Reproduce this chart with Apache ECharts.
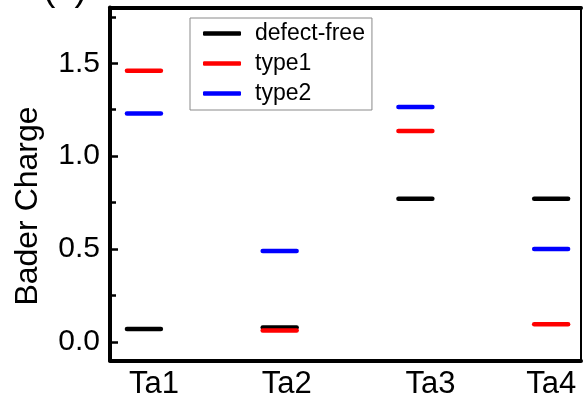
<!DOCTYPE html>
<html>
<head>
<meta charset="utf-8">
<script src="https://cdn.jsdelivr.net/npm/echarts@6/dist/echarts.min.js"></script>
<style>
  html, body { margin: 0; padding: 0; background: #fff; }
  #chart { width: 583px; height: 409px; }
</style>
</head>
<body>
<div id="chart"></div>
<script>
// Bader charge of the four Ta sites
var sites = ['Ta1', 'Ta2', 'Ta3', 'Ta4'];
var defectFree = [0.07, 0.078, 0.77, 0.77];
var type1 = [1.46, 0.062, 1.135, 0.095];
var type2 = [1.23, 0.49, 1.265, 0.50];
var yLabels = [0, 0.5, 1.0, 1.5];
var yMinor = [0.25, 0.75, 1.25, 1.75];

var font = 'Liberation Sans, Arial, sans-serif';
var halfLen = 0.125;

function toData(vals) {
    return vals.map(function (v, i) { return [i + 1, v]; });
}

function levelItem(params, api) {
    var x = api.value(0), y = api.value(1);
    var a = api.coord([x - halfLen, y]);
    var b = api.coord([x + halfLen, y]);
    return {
        type: 'line',
        shape: { x1: a[0], y1: a[1], x2: b[0], y2: b[1] },
        style: { stroke: api.visual('color'), lineWidth: 4.5, lineCap: 'round' }
    };
}

function levelSeries(name, color, vals) {
    return {
        name: name,
        type: 'custom',
        renderItem: levelItem,
        itemStyle: { color: color },
        encode: { x: 0, y: 1 },
        data: toData(vals)
    };
}

// small shifts so the site names sit like in the figure
var labelShift = [20, 14, 30, 0];
var rich = {};
labelShift.forEach(function (p, i) {
    rich['l' + i] = { fontSize: 31, fontFamily: font, color: '#000', padding: [0, 0, 0, p] };
});

var frameLine = { show: true, onZero: false, lineStyle: { color: '#000', width: 4 } };

var chart = echarts.init(document.getElementById('chart'));
chart.setOption({
    animation: false,
    backgroundColor: '#fff',
    grid: {
        left: 110, top: 7.5, width: 471, height: 353,
        containLabel: false, outerBoundsMode: 'none'
    },
    legend: {
        orient: 'vertical',
        left: 190, top: 18,
        padding: [4, 7, 5, 13],
        itemGap: 7,
        itemWidth: 38, itemHeight: 4.5,
        borderColor: '#8a8a8a', borderWidth: 1,
        backgroundColor: '#fff',
        textStyle: { fontSize: 23, fontFamily: font, color: '#000', lineHeight: 22, padding: [0, 0, 0, 9] },
        data: [
            { name: 'defect-free', icon: 'roundRect' },
            { name: 'type1', icon: 'roundRect' },
            { name: 'type2', icon: 'roundRect' }
        ]
    },
    xAxis: [{
        type: 'value', min: 0.75, max: 4.22,
        axisLine: frameLine,
        axisTick: { show: false },
        splitLine: { show: false },
        axisLabel: {
            customValues: [1, 2, 3, 4],
            margin: 8,
            formatter: function (v) {
                var i = Math.round(v) - 1;
                return '{l' + i + '|' + sites[i] + '}';
            },
            rich: rich
        }
    }, {
        type: 'value', min: 0.75, max: 4.22, position: 'top',
        axisLine: frameLine,
        axisTick: { show: false },
        axisLabel: { show: false },
        splitLine: { show: false }
    }],
    yAxis: [{
        type: 'value', min: -0.1, max: 1.8, position: 'left',
        axisLine: frameLine,
        axisTick: { show: true, inside: true, length: 8, customValues: yLabels, lineStyle: { color: '#000', width: 2.5 } },
        splitLine: { show: false },
        axisLabel: {
            customValues: yLabels,
            margin: 10,
            fontSize: 30, fontFamily: font, color: '#000',
            formatter: function (v) { return v.toFixed(1); }
        }
    }, {
        type: 'value', min: -0.1, max: 1.8, position: 'left', offset: 0,
        axisLine: { show: false },
        axisTick: { show: true, inside: true, length: 6, customValues: yMinor, lineStyle: { color: '#000', width: 2.5 } },
        axisLabel: { show: false },
        splitLine: { show: false }
    }, {
        type: 'value', min: -0.1, max: 1.8, position: 'right', offset: 0,
        axisLine: { show: true, onZero: false, lineStyle: { color: '#000', width: 2 } },
        axisTick: { show: false },
        axisLabel: { show: false },
        splitLine: { show: false }
    }],
    graphic: [{
        type: 'text', x: 28, y: 206, rotation: Math.PI / 2,
        style: { text: 'Bader Charge', fontSize: 32, fontFamily: font, fill: '#000', align: 'center', verticalAlign: 'middle' }
    }, {
        type: 'text', x: 65, y: -10,
        style: { text: '(c)', fontSize: 38, fontFamily: font, fill: '#000', align: 'center', verticalAlign: 'middle' }
    }],
    series: [
        levelSeries('defect-free', '#000000', defectFree),
        levelSeries('type1', '#ff0000', type1),
        levelSeries('type2', '#0000ff', type2)
    ]
});
</script>
</body>
</html>
